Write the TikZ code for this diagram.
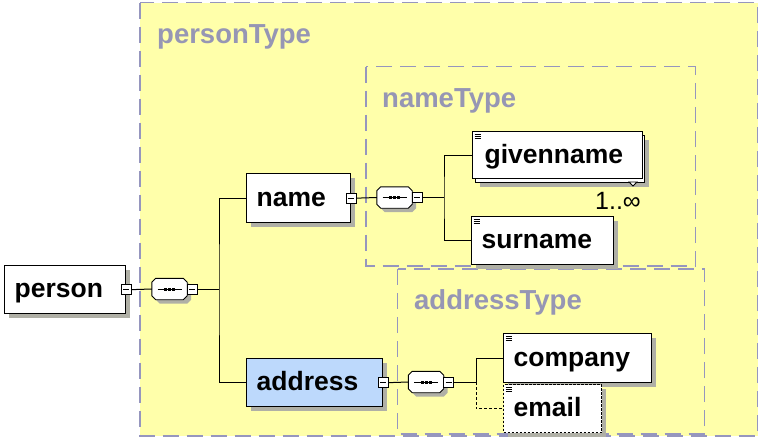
\documentclass[tikz,border=0pt]{standalone}
\usepackage{fontspec}
\setmainfont{Liberation Sans}
\usetikzlibrary{shadows}
\definecolor{ybg}{RGB}{255,255,170}
\definecolor{tline}{RGB}{150,150,190}
\definecolor{ttext}{RGB}{150,150,180}
\definecolor{shad}{RGB}{176,176,166}
\definecolor{cblue}{RGB}{189,217,252}
\newcommand\seqcomp[2]{%
  \node[seqnode] (#1) at (#2) {};
  \draw[shadowed, fill=white, line width=0.9pt]
    ([xshift=4pt]#1.north west) -- ([xshift=-4pt]#1.north east) -- ([yshift=-4pt]#1.north east)
    -- ([yshift=4pt]#1.south east) -- ([xshift=-4pt]#1.south east) -- ([xshift=4pt]#1.south west)
    -- ([yshift=4pt]#1.south west) -- ([yshift=-4pt]#1.north west) -- cycle;
  \draw[line width=1pt] ([xshift=-12pt]#1.center) -- ([xshift=12pt]#1.center);
  \foreach \d in {-4,0,4}{\fill ([xshift=\d pt]#1.center) +(-1.5pt,-1.5pt) rectangle +(1.5pt,1.5pt);}
}
\begin{document}
\begin{tikzpicture}[x=1pt,y=-1pt,
  typebox/.style={draw=tline, line width=1.3pt, dash pattern=on 16pt off 8pt},
  typetitle/.style={anchor=base west, inner sep=0pt, text=ttext, font=\fontsize{27.5}{30}\selectfont\bfseries},
  shadowed/.style={drop shadow={shadow xshift=4pt, shadow yshift=-4pt, fill=shad, opacity=1}},
  elem/.style={draw, fill=white, line width=1.3pt, anchor=north west, inner xsep=10pt, inner ysep=0pt,
    text height=16pt, text depth=0pt, align=left, font=\fontsize{26.5}{30}\selectfont\bfseries},
  leaf/.style={path picture={\foreach \k in {2.5,4.5,6.5}{\draw[line width=0.7pt, solid] ([xshift=2pt,yshift=-\k pt]path picture bounding box.north west) -- ++(6pt,0pt);}}},
  minusbox/.style={draw, fill=white, line width=0.9pt, minimum size=10pt, inner sep=0pt,
    path picture={\draw[line width=0.9pt] ([xshift=2pt]path picture bounding box.west) -- ([xshift=-2pt]path picture bounding box.east);}},
  seqnode/.style={rectangle, minimum width=35pt, minimum height=21pt, inner sep=0pt},
  conn/.style={line width=1pt},
  optconn/.style={line width=1pt, dash pattern=on 3pt off 2pt}
]
\useasboundingbox (0,0) rectangle (761,439);

% type boxes
\draw[typebox, fill=ybg] (140,2.5) rectangle (757.5,436);
\draw[typebox] (366,66.5) rectangle (695.5,266);
\draw[typebox] (397.5,269) rectangle (704.5,434);
\node[typetitle] (tperson) at (157,43) {personType};
\node[typetitle] (tname) at (382,107) {nameType};
\node[typetitle] (taddr) at (414,309) {addressType};

% junctions
\coordinate (j1) at (219,289);
\coordinate (j2) at (444,197.5);
\coordinate (j3) at (476,382);

% elements
\node[elem, shadowed, minimum width=121pt, minimum height=48pt, text width=101pt] (person) at (4,265) {person};
\node[elem, shadowed, minimum width=104pt, minimum height=49pt, text width=84pt] (name) at (246,173) {name};
\node[elem, shadowed, fill=cblue, minimum width=136pt, minimum height=48pt, text width=116pt] (address) at (246,358) {address};
\node[elem, shadowed, minimum width=169pt, minimum height=47pt] (gback) at (475,135) {};
\node[elem, leaf, minimum width=170pt, minimum height=47pt, inner xsep=12pt, text width=146pt] (given) at (472,131) {givenname};
\node[elem, shadowed, leaf, minimum width=142pt, minimum height=48pt, text width=122pt] (surname) at (471,216) {surname};
\node[elem, shadowed, leaf, minimum width=148pt, minimum height=49pt, text width=128pt] (company) at (503,333) {company};
\node[elem, shadowed, leaf, dash pattern=on 2.5pt off 1.5pt, minimum width=98pt, minimum height=48pt, text width=78pt] (email) at (503,384) {email};
\draw[line width=0.8pt, fill=white] (629,182) -- (637,182) -- (633,186) -- cycle;
\node[anchor=base east, inner sep=0pt, font=\fontsize{25}{28}\selectfont] (card) at (641,209) {1..∞};

% compositors and collapse boxes
\seqcomp{s1}{169.5,289}
\seqcomp{s2}{394.5,197.5}
\seqcomp{s3}{426,382}
\node[minusbox] (pm) at (person.east) {};
\node[minusbox] (nm) at (name.east) {};
\node[minusbox] (am) at (address.east) {};
\node[minusbox] (s1m) at ([xshift=5pt]s1.east) {};
\node[minusbox] (s2m) at ([xshift=5pt]s2.east) {};
\node[minusbox] (s3m) at ([xshift=5pt]s3.east) {};

% connectors
\draw[conn] (pm.east) -- (s1.west);
\draw[conn] (s1m.east) -- (j1);
\draw[conn] (name.west) -| (j1) |- (address.west);
\draw[conn] (nm.east) -- (s2.west);
\draw[conn] (s2m.east) -- (j2);
\draw[conn] (given.west) -| (j2) |- (surname.west);
\draw[conn] (am.east) -- (s3.west);
\draw[conn] (s3m.east) -- (j3);
\draw[conn] (company.west) -| (j3);
\draw[optconn] (j3) |- (email.west);
\end{tikzpicture}
\end{document}
